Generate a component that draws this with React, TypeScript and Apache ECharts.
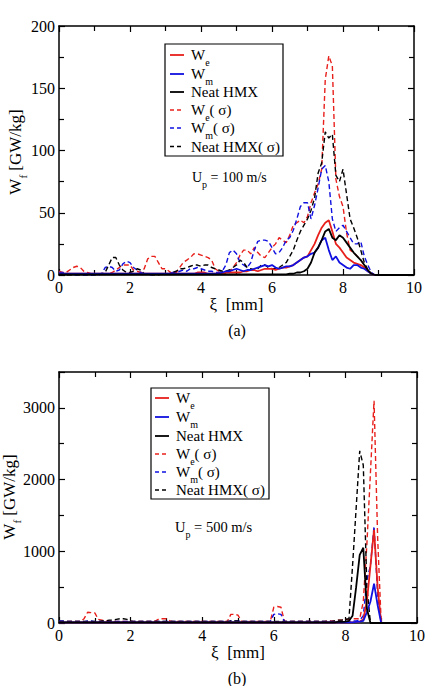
import React, { useEffect, useRef } from "react";
import * as echarts from "echarts";

// Sample positions along ξ (mm), 0.1 mm spacing
const XS: number[] = Array.from({ length: 101 }, (_, i) => i / 10);

// ---- Panel (a): Up = 100 m/s, W_f in GW/kg ----
const weA = [
  1, 1, 1, 1, 1, 1, 1, 1, 1, 1,
  1, 1, 1, 1, 1, 1, 1, 1, 1, 1,
  1, 1, 1, 1, 1, 1, 1, 1, 1, 1,
  1, 1, 1, 1, 1, 1, 1, 1, 1, 2,
  2, 2, 1, 1, 1, 1, 1, 2, 2, 2,
  2, 2, 3, 3, 4, 4, 3, 4, 5, 5,
  5, 4, 5, 6, 6, 7, 8, 10, 12, 14,
  15, 20, 25, 32, 38, 42, 44, 35, 25, 22,
  18, 14, 12, 10, 9, 8, 6, 3, 1, 0,
  0, 0, 0, 0, 0, 0, 0, 0, 0, 0, 0,
];
const wmA = [
  1, 1, 1, 1, 1, 1, 1, 1, 1, 1,
  1, 1, 1, 1, 1, 1, 1, 1, 1, 1,
  1, 1, 1, 1, 1, 1, 1, 1, 1, 1,
  1, 1, 1, 1, 1, 1, 1, 1, 1, 1,
  1, 1, 1, 1, 1, 1, 2, 3, 3, 4,
  5, 4, 3, 4, 4, 5, 6, 7, 8, 7,
  8, 6, 5, 6, 7, 7, 8, 10, 12, 14,
  15, 17, 18, 22, 28, 30, 20, 12, 15, 10,
  8, 6, 5, 8, 8, 6, 5, 3, 1, 0,
  0, 0, 0, 0, 0, 0, 0, 0, 0, 0, 0,
];
const hmxA = [
  0.5, 0.5, 0.5, 0.5, 0.5, 0.5, 0.5, 0.5, 0.5, 0.5,
  0.5, 0.5, 0.5, 0.5, 0.5, 0.5, 0.5, 0.5, 0.5, 0.5,
  0.5, 0.5, 0.5, 0.5, 0.5, 0.5, 0.5, 0.5, 0.5, 0.5,
  0.5, 0.5, 0.5, 0.5, 0.5, 0.5, 0.5, 0.5, 0.5, 0.5,
  0.5, 0.5, 0.5, 0.5, 0.5, 0.5, 0.5, 0.5, 0.5, 0.5,
  0.5, 0.5, 0.5, 0.5, 0.5, 0.5, 0.5, 0.5, 0.5, 0.5,
  0.5, 0.5, 0.5, 0.5, 0.5, 1, 1, 2, 2, 3,
  5, 10, 18, 22, 28, 35, 37, 30, 28, 32,
  30, 26, 22, 18, 15, 12, 8, 4, 1, 0,
  0, 0, 0, 0, 0, 0, 0, 0, 0, 0, 0,
];
const weSigA = [
  3, 2, 2, 4, 6, 7, 6, 3, 2, 1,
  1, 1, 0, 1, 1, 2, 4, 6, 8, 8,
  8, 4, 3, 2, 5, 13, 15, 15, 10, 5,
  5, 3, 1, 2, 6, 10, 12, 14, 17, 17,
  16, 15, 14, 12, 5, 3, 1, 1, 2, 6,
  10, 16, 20, 20, 17, 22, 18, 15, 14, 18,
  22, 25, 30, 28, 26, 32, 40, 42, 44, 42,
  47, 58, 66, 73, 85, 157, 176, 168, 77, 63,
  55, 34, 20, 18, 15, 12, 8, 4, 1, 0,
  0, 0, 0, 0, 0, 0, 0, 0, 0, 0, 0,
];
const wmSigA = [
  2, 2, 1, 1, 0, 0, 1, 0, 0, 0,
  0, 0, 1, 6, 7, 6, 3, 4, 9, 11,
  10, 6, 4, 2, 1, 1, 0, 1, 1, 1,
  1, 1, 2, 2, 3, 4, 3, 5, 5, 6,
  5, 4, 3, 3, 2, 2, 3, 8, 18, 20,
  17, 10, 8, 6, 10, 20, 27, 28, 28, 27,
  22, 17, 18, 22, 28, 30, 36, 45, 55, 58,
  58, 45, 56, 70, 85, 88, 75, 45, 35, 38,
  40, 35, 30, 25, 25, 27, 15, 8, 2, 0,
  0, 0, 0, 0, 0, 0, 0, 0, 0, 0, 0,
];
const hmxSigA = [
  1, 1, 0, 0, 0, 0, 0, 0, 0, 0,
  0, 0, 1, 2, 8, 14, 14, 8, 4, 2,
  2, 3, 5, 4, 1, 1, 0, 0, 0, 1,
  1, 1, 2, 3, 5, 5, 6, 7, 8, 8,
  7, 8, 8, 6, 5, 4, 3, 3, 4, 6,
  8, 12, 10, 6, 5, 4, 5, 8, 8, 6,
  5, 5, 6, 8, 10, 15, 20, 28, 35, 40,
  45, 52, 62, 82, 90, 115, 110, 113, 80, 75,
  85, 65, 45, 38, 30, 20, 10, 4, 1, 0,
  0, 0, 0, 0, 0, 0, 0, 0, 0, 0, 0,
];

// ---- Panel (b): Up = 500 m/s ----
const weB = [
  10, 10, 10, 10, 10, 10, 10, 10, 10, 10,
  10, 10, 10, 10, 10, 10, 10, 10, 10, 10,
  10, 10, 10, 10, 10, 10, 10, 10, 10, 10,
  10, 10, 10, 10, 10, 10, 10, 10, 10, 10,
  10, 10, 10, 10, 10, 10, 10, 10, 10, 10,
  10, 10, 10, 10, 10, 10, 10, 10, 10, 10,
  10, 10, 10, 10, 10, 10, 10, 10, 10, 10,
  10, 10, 10, 10, 10, 10, 10, 10, 10, 10,
  10, 10, 10, 15, 20, 50, 300, 800, 1300, 500,
  0, 0, 0, 0, 0, 0, 0, 0, 0, 0, 0,
];
const wmB = [
  10, 10, 10, 10, 10, 10, 10, 10, 10, 10,
  10, 10, 10, 10, 10, 10, 10, 10, 10, 10,
  10, 10, 10, 10, 10, 10, 10, 10, 10, 10,
  10, 10, 10, 10, 10, 10, 10, 10, 10, 10,
  10, 10, 10, 10, 10, 10, 10, 10, 10, 10,
  10, 10, 10, 10, 10, 10, 10, 10, 10, 10,
  10, 10, 10, 10, 10, 10, 10, 10, 10, 10,
  10, 10, 10, 10, 10, 10, 10, 10, 10, 10,
  10, 10, 10, 15, 20, 30, 150, 300, 550, 250,
  0, 0, 0, 0, 0, 0, 0, 0, 0, 0, 0,
];
const hmxB = [
  10, 10, 10, 10, 10, 10, 10, 10, 10, 10,
  10, 10, 10, 10, 10, 10, 10, 10, 10, 10,
  10, 10, 10, 10, 10, 10, 10, 10, 10, 10,
  10, 10, 10, 10, 10, 10, 10, 10, 10, 10,
  10, 10, 10, 10, 10, 10, 10, 10, 10, 10,
  10, 10, 10, 10, 10, 10, 10, 10, 10, 10,
  10, 10, 10, 10, 10, 10, 10, 10, 10, 10,
  10, 10, 10, 10, 10, 10, 10, 10, 15, 15,
  20, 30, 100, 500, 950, 1050, 200, 0, 0, 0,
  0, 0, 0, 0, 0, 0, 0, 0, 0, 0, 0,
];
const weSigB = [
  20, 20, 20, 20, 20, 20, 20, 60, 150, 145,
  140, 50, 40, 30, 30, 25, 20, 20, 20, 20,
  20, 20, 20, 20, 20, 20, 20, 30, 60, 60,
  60, 30, 20, 20, 20, 20, 20, 20, 20, 20,
  20, 20, 20, 20, 20, 20, 20, 20, 120, 120,
  110, 20, 20, 20, 20, 20, 20, 20, 20, 20,
  220, 230, 220, 20, 20, 20, 20, 20, 20, 20,
  20, 20, 20, 20, 20, 30, 30, 30, 40, 40,
  50, 50, 60, 60, 60, 300, 1100, 2100, 3100, 1200,
  0, 0, 0, 0, 0, 0, 0, 0, 0, 0, 0,
];
const wmSigB = [
  30, 30, 20, 20, 20, 20, 20, 20, 30, 30,
  20, 20, 20, 20, 20, 20, 20, 20, 20, 20,
  20, 20, 20, 20, 20, 20, 20, 20, 20, 20,
  20, 20, 20, 20, 20, 20, 20, 20, 20, 20,
  20, 20, 20, 20, 20, 20, 20, 20, 30, 30,
  30, 20, 20, 20, 20, 20, 20, 20, 20, 20,
  120, 130, 120, 20, 20, 20, 20, 20, 20, 20,
  20, 20, 20, 20, 20, 20, 20, 20, 20, 20,
  20, 20, 30, 30, 40, 100, 600, 800, 1350, 400,
  0, 0, 0, 0, 0, 0, 0, 0, 0, 0, 0,
];
const hmxSigB = [
  20, 20, 20, 20, 20, 20, 20, 20, 20, 20,
  20, 20, 30, 30, 40, 40, 50, 60, 60, 50,
  30, 20, 20, 20, 20, 20, 20, 20, 20, 20,
  20, 20, 20, 20, 20, 20, 20, 20, 20, 20,
  20, 20, 20, 20, 20, 20, 20, 20, 30, 30,
  30, 20, 20, 20, 20, 20, 20, 20, 20, 20,
  20, 20, 20, 20, 20, 20, 20, 20, 20, 20,
  20, 20, 20, 20, 20, 20, 20, 30, 40, 40,
  50, 60, 800, 1600, 2400, 2200, 500, 0, 0, 0,
  0, 0, 0, 0, 0, 0, 0, 0, 0, 0, 0,
];

const LEGEND_LABELS = [
  "{m|W}{s|e}",
  "{m|W}{s|m}",
  "{m|Neat HMX}",
  "{m|W}{s|e}{m|( σ)}",
  "{m|W}{s|m}{m|( σ)}",
  "{m|Neat HMX( σ)}",
];
const LEGEND_COLORS = ["#e8201c", "#1010e0", "#000000", "#e8201c", "#1010e0", "#000000"];
const LEGEND_DASHED = [false, false, false, true, true, true];

const FONT = "Liberation Serif";
const RED = "#e8201c";
const BLUE = "#1010e0";
const BLACK = "#000000";
const DASH = [5, 3];

const richSub = (size: number, lh: number, sub: number) => ({
  m: { fontFamily: FONT, fontSize: size, lineHeight: lh, color: "#000", verticalAlign: "middle" },
  s: { fontFamily: FONT, fontSize: sub, lineHeight: sub, color: "#000", verticalAlign: "bottom" },
});

function lineSeries(values: number[], color: string, dashed: boolean, g: number) {
  return {
    type: "line",
    xAxisIndex: g * 2,
    yAxisIndex: g * 2,
    data: XS.map((x, i) => [x, values[i]]),
    symbol: "none",
    showSymbol: false,
    silent: true,
    lineStyle: { color, width: dashed ? 1.4 : 1.8, type: dashed ? DASH : "solid" },
    z: dashed ? 3 : 4,
  };
}

const tickStyle = { color: "#000", width: 1.2 };

function xAxisFor(g: number, top: boolean, nameGap: number) {
  return {
    gridIndex: g,
    type: "value",
    min: 0,
    max: 10,
    interval: 2,
    position: top ? "top" : "bottom",
    axisLine: { show: true, onZero: false, lineStyle: { color: "#000", width: 1.5 } },
    axisTick: { show: true, inside: true, length: 6, lineStyle: tickStyle },
    minorTick: { show: true, splitNumber: 2, length: 5, lineStyle: tickStyle },
    splitLine: { show: false },
    minorSplitLine: { show: false },
    axisLabel: {
      show: !top,
      color: "#000",
      fontFamily: FONT,
      fontSize: 16,
      margin: 4,
      formatter: (v: number) => String(v),
    },
    name: top ? "" : "ξ  [mm]",
    nameLocation: "middle",
    nameGap,
    nameTextStyle: { color: "#000", fontFamily: FONT, fontSize: 17 },
  };
}

function yAxisFor(g: number, right: boolean, max: number, interval: number) {
  return {
    gridIndex: g,
    type: "value",
    min: 0,
    max,
    interval,
    position: right ? "right" : "left",
    axisLine: { show: true, onZero: false, lineStyle: { color: "#000", width: 1.5 } },
    axisTick: { show: true, inside: true, length: 6, lineStyle: tickStyle },
    minorTick: { show: true, splitNumber: 2, length: 5, lineStyle: tickStyle },
    splitLine: { show: false },
    minorSplitLine: { show: false },
    axisLabel: {
      show: !right,
      color: "#000",
      fontFamily: FONT,
      fontSize: 16,
      margin: 4,
      formatter: (v: number) => (v % interval === 0 ? String(v) : ""),
    },
  };
}

function legendBox(x0: number, y0: number, w: number, h: number, lineX: number, textX: number, rowY: number[]) {
  const els: any[] = [
    {
      type: "rect",
      shape: { x: x0, y: y0, width: w, height: h },
      style: { fill: "#fff", stroke: "#000", lineWidth: 1.2 },
      z: 10,
    },
  ];
  LEGEND_LABELS.forEach((label, i) => {
    els.push({
      type: "line",
      shape: { x1: lineX, y1: rowY[i], x2: lineX + 14, y2: rowY[i] },
      style: {
        stroke: LEGEND_COLORS[i],
        lineWidth: LEGEND_DASHED[i] ? 1.4 : 1.8,
        lineDash: LEGEND_DASHED[i] ? [4, 3] : null,
      },
      z: 11,
    });
    els.push({
      type: "text",
      x: textX,
      y: rowY[i],
      style: {
        text: label,
        rich: richSub(15, 24, 10),
        fill: "#000",
        align: "left",
        verticalAlign: "middle",
      },
      z: 11,
    });
  });
  return els;
}

function plainText(text: string, x: number, y: number, size: number) {
  return {
    type: "text",
    x,
    y,
    style: { text, fill: "#000", fontFamily: FONT, fontSize: size, align: "center", verticalAlign: "middle" },
    z: 11,
  };
}

// Rotated y-axis title: W_f [GW/kg]
function yTitle(x: number, y: number) {
  return {
    type: "text",
    x,
    y,
    rotation: Math.PI / 2,
    style: {
      text: "{m|W}{s|f}{m| [GW/kg]}",
      rich: richSub(17, 26, 11),
      fill: "#000",
      align: "center",
      verticalAlign: "middle",
    },
    z: 11,
  };
}

export default function App() {
  const ref = useRef<HTMLDivElement>(null);

  useEffect(() => {
    if (!ref.current) return;
    const chart = echarts.init(ref.current, undefined, { renderer: "svg" });

    const option: any = {
      animation: false,
      backgroundColor: "#fff",
      grid: [
        { left: 59, top: 26, width: 355, height: 249 },
        { left: 59, top: 372, width: 360, height: 251 },
      ],
      xAxis: [xAxisFor(0, false, 16), xAxisFor(0, true, 0), xAxisFor(1, false, 20), xAxisFor(1, true, 0)],
      yAxis: [
        yAxisFor(0, false, 200, 50),
        yAxisFor(0, true, 200, 50),
        yAxisFor(1, false, 3500, 1000),
        yAxisFor(1, true, 3500, 1000),
      ],
      series: [
        lineSeries(weA, RED, false, 0),
        lineSeries(wmA, BLUE, false, 0),
        lineSeries(hmxA, BLACK, false, 0),
        lineSeries(weSigA, RED, true, 0),
        lineSeries(wmSigA, BLUE, true, 0),
        lineSeries(hmxSigA, BLACK, true, 0),
        lineSeries(weB, RED, false, 1),
        lineSeries(wmB, BLUE, false, 1),
        lineSeries(hmxB, BLACK, false, 1),
        lineSeries(weSigB, RED, true, 1),
        lineSeries(wmSigB, BLUE, true, 1),
        lineSeries(hmxSigB, BLACK, true, 1),
      ],
      graphic: [
        ...legendBox(165, 44, 118, 112, 170, 191, [55, 74, 92, 110, 128, 146.5]),
        ...legendBox(151, 388, 118, 111, 155, 176, [398, 417, 436, 454, 472, 490]),
        {
          type: "text",
          x: 192,
          y: 177,
          style: { text: "{m|U}{s|p}{m| = 100 m/s}", rich: richSub(14, 24, 10), align: "left", verticalAlign: "middle" },
          z: 11,
        },
        {
          type: "text",
          x: 175,
          y: 527,
          style: { text: "{m|U}{s|p}{m| = 500 m/s}", rich: richSub(14.5, 24, 10), align: "left", verticalAlign: "middle" },
          z: 11,
        },
        yTitle(15, 152),
        yTitle(9, 497),
        plainText("(a)", 237, 330, 16),
        plainText("(b)", 237, 678, 16),
      ],
    };

    chart.setOption(option);
    return () => chart.dispose();
  }, []);

  return (
    <div
      ref={ref}
      style={{ position: "absolute", left: 0, top: 0, width: 428, height: 686, background: "#fff" }}
    />
  );
}
